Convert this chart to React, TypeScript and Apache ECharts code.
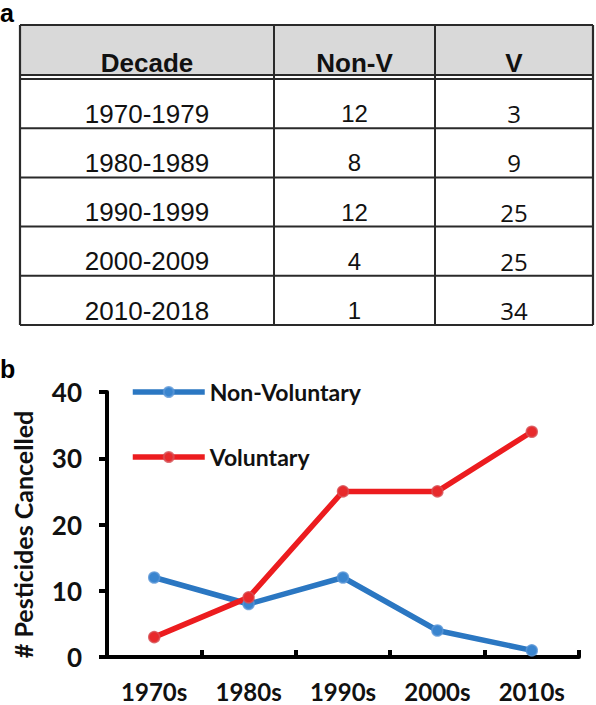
import React, { useEffect, useRef } from "react";
import * as echarts from "echarts";

// ---- data ----
const tableHeaders = ["Decade", "Non-V", "V"];
const decadeRanges = ["1970-1979", "1980-1989", "1990-1999", "2000-2009", "2010-2018"];
const decadeLabels = ["1970s", "1980s", "1990s", "2000s", "2010s"];
const nonVoluntary = [12, 8, 12, 4, 1];
const voluntary = [3, 9, 25, 25, 34];
const seriesNames = ["Non-Voluntary", "Voluntary"];
const yTicks = { min: 0, max: 40, interval: 10 };
const yAxisTitle = "# Pesticides Cancelled";
const panelLabels = ["a", "b"];

// ---- layout / style ----
const W = 596;
const H = 705;
const colX = [20, 274, 435, 593];
const headTop = 25;
const headBottom = 75;
const bodyTop = 79;
const rowH = (325 - 79) / 5;
const lineColor = "#2a2a2a";
const BLUE = "#2b77c2";
const RED = "#ec1c1f";
const chartFont = "Lato, 'Open Sans', sans-serif";
const tableFont = "'Liberation Sans', Arial, sans-serif";

function buildTableGraphics() {
  const els: any[] = [];
  const tableBottom = bodyTop + rowH * decadeRanges.length;
  // header fill
  els.push({
    type: "rect",
    shape: { x: colX[0], y: headTop, width: colX[3] - colX[0], height: headBottom - headTop },
    style: { fill: "#d9d9d9" },
    silent: true,
  });
  const hline = (y: number, w = 2) =>
    els.push({
      type: "line",
      shape: { x1: colX[0], y1: y, x2: colX[3], y2: y },
      style: { stroke: lineColor, lineWidth: w },
      silent: true,
    });
  hline(headTop, 2.2);
  hline(headBottom, 1.8);
  hline(bodyTop, 1.8);
  for (let i = 1; i <= decadeRanges.length; i++) hline(bodyTop + rowH * i, i === decadeRanges.length ? 2.2 : 2);
  colX.forEach((x, i) =>
    els.push({
      type: "line",
      shape: { x1: x, y1: headTop, x2: x, y2: tableBottom },
      style: { stroke: lineColor, lineWidth: i === 0 || i === 3 ? 2.2 : 2 },
      silent: true,
    })
  );
  const txt = (s: string, x: number, y: number, size: number, weight: string, family: string) =>
    els.push({
      type: "text",
      x,
      y,
      style: {
        text: s,
        fontSize: size,
        fontWeight: weight,
        fontFamily: family,
        fill: "#111",
        align: "center",
        textAlign: "center",
        verticalAlign: "middle",
        textVerticalAlign: "middle",
      },
      silent: true,
    });
  tableHeaders.forEach((h, i) => txt(h, (colX[i] + colX[i + 1]) / 2, 63, 26, "bold", tableFont));
  decadeRanges.forEach((d, r) => {
    const yc = bodyTop + rowH * (r + 1) - 14.5;
    txt(d, (colX[0] + colX[1]) / 2, yc, 26, "normal", tableFont);
    txt(String(nonVoluntary[r]), (colX[1] + colX[2]) / 2, yc, 24, "normal", tableFont);
    txt(String(voluntary[r]), (colX[2] + colX[3]) / 2, yc, 24, "normal", "'Open Sans', sans-serif");
  });
  // panel labels
  const panel = (s: string, y: number) =>
    els.push({
      type: "text",
      x: 0,
      y,
      style: {
        text: s,
        fontSize: 25,
        fontWeight: "bold",
        fontFamily: tableFont,
        fill: "#000",
        align: "left",
        textAlign: "left",
        verticalAlign: "middle",
        textVerticalAlign: "middle",
      },
      silent: true,
    });
  panel(panelLabels[0], 13);
  panel(panelLabels[1], 368.5);
  return els;
}

export default function App() {
  const ref = useRef<HTMLDivElement>(null);
  useEffect(() => {
    if (!ref.current) return;
    const chart = echarts.init(ref.current, undefined, { renderer: "svg" });
    const legendBase = {
      left: 130,
      orient: "horizontal",
      padding: 0,
      itemWidth: 72,
      itemHeight: 12.5,
      itemGap: 0,
      textStyle: { fontFamily: chartFont, fontWeight: "bold", fontSize: 23, color: "#111" },
      lineStyle: { width: 5.5 },
      selectedMode: false,
    };
    chart.setOption({
      animation: false,
      backgroundColor: "#fff",
      graphic: buildTableGraphics(),
      legend: [
        { ...legendBase, data: [seriesNames[0]], top: 380.5 },
        { ...legendBase, data: [seriesNames[1]], top: 445.5 },
      ],
      grid: {
        left: 107,
        top: 392,
        width: 472,
        height: 265,
        containLabel: false,
        outerBoundsMode: "none",
      },
      xAxis: {
        type: "category",
        data: decadeLabels,
        boundaryGap: true,
        axisLine: { show: true, lineStyle: { color: "#000", width: 4 } },
        axisTick: { show: true, inside: true, length: 7, lineStyle: { color: "#000", width: 4 } },
        axisLabel: {
          fontFamily: chartFont,
          fontWeight: "bold",
          fontSize: 24,
          color: "#111",
          margin: 22,
        },
        splitLine: { show: false },
      },
      yAxis: {
        type: "value",
        min: yTicks.min,
        max: yTicks.max,
        interval: yTicks.interval,
        name: yAxisTitle,
        nameLocation: "middle",
        nameRotate: 90,
        nameGap: 72,
        nameTextStyle: {
          fontFamily: chartFont,
          fontWeight: "bold",
          fontSize: 25,
          color: "#111",
          padding: [0, 20, 0, 0],
        },
        axisLine: { show: true, lineStyle: { color: "#000", width: 4 } },
        axisTick: { show: true, inside: false, length: 8, lineStyle: { color: "#000", width: 4 } },
        axisLabel: {
          fontFamily: chartFont,
          fontWeight: "bold",
          fontSize: 26,
          color: "#111",
          margin: 25,
        },
        splitLine: { show: false },
      },
      series: [
        {
          name: seriesNames[0],
          type: "line",
          data: nonVoluntary,
          symbol: "circle",
          symbolSize: 11,
          lineStyle: { color: BLUE, width: 5.5 },
          itemStyle: { color: "#3a85cf", borderColor: "rgba(90,150,215,0.8)", borderWidth: 1.5 },
          emphasis: { disabled: true },
        },
        {
          name: seriesNames[1],
          type: "line",
          data: voluntary,
          symbol: "circle",
          symbolSize: 11,
          lineStyle: { color: RED, width: 5.5 },
          itemStyle: { color: "#e82a2c", borderColor: "rgba(215,80,85,0.8)", borderWidth: 1.5 },
          emphasis: { disabled: true },
        },
      ],
    });
    return () => chart.dispose();
  }, []);
  return (
    <div
      ref={ref}
      style={{ position: "absolute", left: 0, top: 0, width: W, height: H, background: "#fff" }}
    />
  );
}
